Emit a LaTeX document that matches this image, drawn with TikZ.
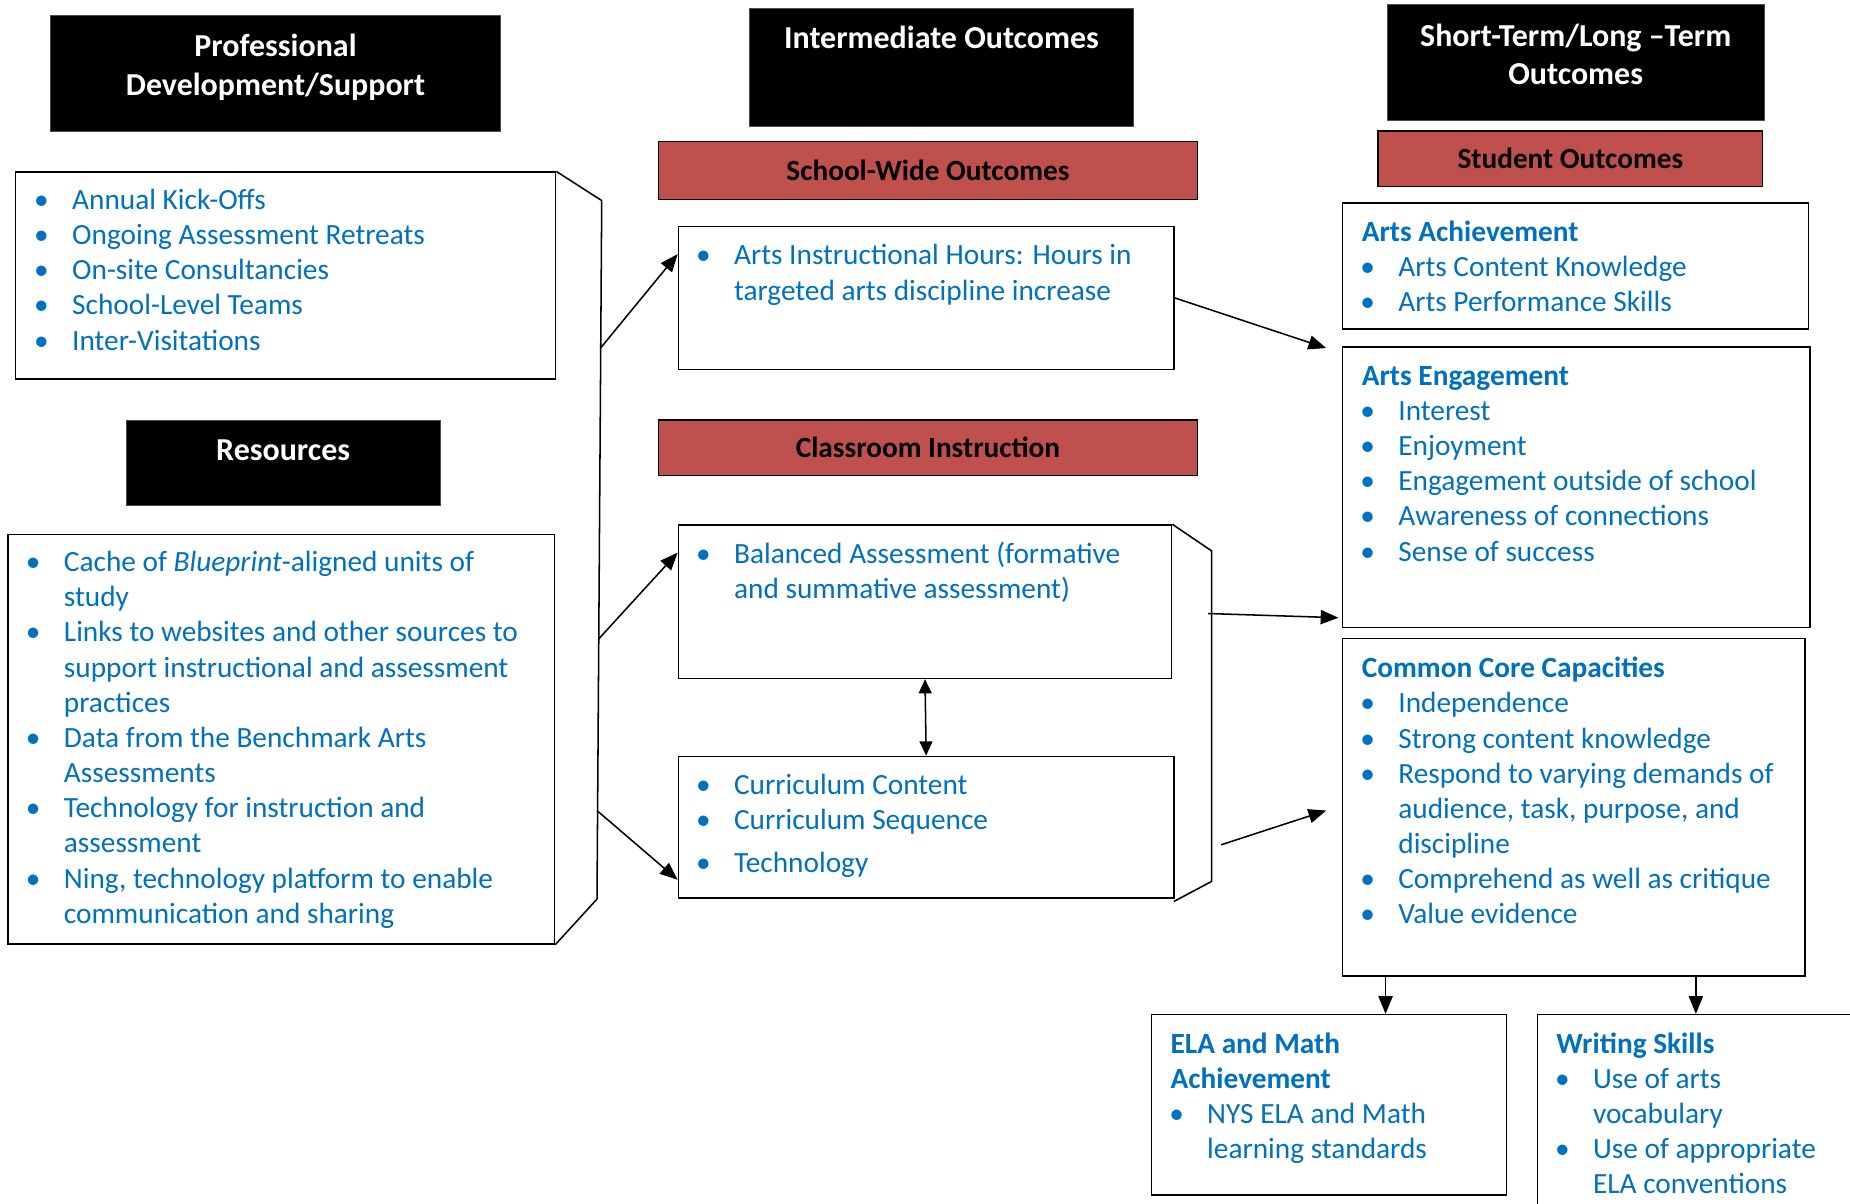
\documentclass[tikz,border=0pt]{standalone}
\usepackage{fontspec}
\setmainfont{Carlito}
\usetikzlibrary{arrows.meta,fit}
\definecolor{tblue}{HTML}{0070C0}
\definecolor{tred}{HTML}{C0504D}
\newcommand\bodyfont{\fontsize{24.85}{29.8}\selectfont}
\newcommand\bul{\leavevmode\llap{\makebox[52pt]{\textbullet}}}
\newcommand\ttl[1]{\leavevmode\hspace*{-31pt}\textbf{#1}}
\newcommand\txtbox[1]{\parbox[t]{600pt}{\raggedright\bodyfont\leavevmode#1}}
\newcommand\hdr[1]{\parbox[t]{400pt}{\centering\fontsize{27.1}{33}\selectfont\bfseries\leavevmode#1}}
\newcommand\rhdr[1]{\parbox[t]{400pt}{\centering\fontsize{24.8}{30}\selectfont\bfseries\leavevmode#1}}
\begin{document}
\begin{tikzpicture}[x=1pt,y=-1pt,
  box/.style={draw=black, line width=1.3pt, inner sep=0pt, fill=white},
  blackhd/.style={fill=black, draw=black!70, line width=0.6pt, inner sep=0pt},
  redhd/.style={fill=tred, draw=black, line width=1.2pt, inner sep=0pt},
  txt/.style={inner sep=0pt, anchor=base west, text=tblue},
  htxt/.style={inner sep=0pt, anchor=base, text=white},
  rtxt/.style={inner sep=0pt, anchor=base, text=black},
  conn/.style={line width=1.3pt, draw=black},
  arr/.style={conn, -{Triangle[length=15pt,width=12pt]}},
  darr/.style={conn, {Triangle[length=12pt,width=11pt]}-{Triangle[length=12pt,width=11pt]}}
]
\useasboundingbox (0,0) rectangle (1568,1020);
\clip (0,0) rectangle (1568,1020);
\fill[white] (0,0) rectangle (1568,1020);

% header boxes
\node[blackhd, fit={(43,13) (424,111)}] (pdh) {};
\node[blackhd, fit={(635,7) (961,107)}] (ioh) {};
\node[blackhd, fit={(1176,4) (1495,102)}] (sth) {};
\node[blackhd, fit={(107,356) (373,428)}] (resh) {};
\node[redhd, fit={(558,120) (1015,169)}] (swh) {};
\node[redhd, fit={(558,356) (1015,403)}] (cih) {};
\node[redhd, fit={(1168,111) (1494,158)}] (soh) {};

\node[htxt] (pdht) at (233.5,48) {\hdr{Professional\\Development/Support}};
\node[htxt] (ioht) at (798,41) {\hdr{Intermediate Outcomes}};
\node[htxt] (stht) at (1335.5,39) {\hdr{Short-Term/Long –Term\\Outcomes}};
\node[htxt] (resht) at (240,390) {\hdr{Resources}};
\node[rtxt] (swht) at (786.5,153) {\rhdr{School-Wide Outcomes}};
\node[rtxt] (ciht) at (786.5,388) {\rhdr{Classroom Instruction}};
\node[rtxt] (soht) at (1331,143) {\rhdr{Student Outcomes}};

% content boxes
\node[box, fit={(13,146) (471,321)}] (pd) {};
\node[box, fit={(7,453) (470,800)}] (res) {};
\node[box, fit={(575,192) (995,313)}] (ih) {};
\node[box, fit={(575,445) (993,575)}] (ba) {};
\node[box, fit={(575,641) (995,761)}] (cur) {};
\node[box, fit={(1138,172) (1533,279)}] (aa) {};
\node[box, fit={(1138,294) (1534,532)}] (ae) {};
\node[box, fit={(1138,541) (1530,827)}] (cc) {};
\node[box, fit={(976,860) (1277,1013)}] (ela) {};
\node[box, fit={(1303,860) (1600,1060)}] (ws) {};

% texts
\node[txt] (pdt) at (61,177.5) {\txtbox{\bul Annual Kick-Offs\\
\bul Ongoing Assessment Retreats\\
\bul On-site Consultancies\\
\bul School-Level Teams\\
\bul Inter-Visitations}};
\node[txt] (rest) at (54,484.5) {\txtbox{\bul Cache of \textit{Blueprint}-aligned units of\\
study\\
\bul Links to websites and other sources to\\
support instructional and assessment\\
practices\\
\bul Data from the Benchmark Arts\\
Assessments\\
\bul Technology for instruction and\\
assessment\\
\bul Ning, technology platform to enable\\
communication and sharing}};
\node[txt] (iht) at (622,224.5) {\txtbox{\bul Arts Instructional Hours: Hours in\\
targeted arts discipline increase}};
\node[txt] (bat) at (622,477.5) {\txtbox{\bul Balanced Assessment (formative\\
and summative assessment)}};
\node[txt] (curt) at (622,673.5) {\txtbox{\bul Curriculum Content\\
\bul Curriculum Sequence\\[6pt]
\bul Technology}};
\node[txt] (aat) at (1185,204.5) {\txtbox{\ttl{Arts Achievement}\\
\bul Arts Content Knowledge\\
\bul Arts Performance Skills}};
\node[txt] (aet) at (1185,326.5) {\txtbox{\ttl{Arts Engagement}\\
\bul Interest\\
\bul Enjoyment\\
\bul Engagement outside of school\\
\bul Awareness of connections\\
\bul Sense of success}};
\node[txt] (cct) at (1185,574.5) {\txtbox{\ttl{Common Core Capacities}\\
\bul Independence\\
\bul Strong content knowledge\\
\bul Respond to varying demands of\\
audience, task, purpose, and\\
discipline\\
\bul Comprehend as well as critique\\
\bul Value evidence}};
\node[txt] (elat) at (1023,892.5) {\txtbox{\ttl{ELA and Math}\\
\ttl{Achievement}\\
\bul NYS ELA and Math\\
learning standards}};
\node[txt] (wst) at (1350,892.5) {\txtbox{\ttl{Writing Skills}\\
\bul Use of arts\\
vocabulary\\
\bul Use of appropriate\\
ELA conventions}};

% bracket coordinates
\coordinate (bl1) at (510,170);
\coordinate (bl2) at (506,762);
\coordinate (a1) at (509,295);
\coordinate (a2) at (507,542);
\coordinate (a3) at (506,687);
\coordinate (bm1) at (1027,467);
\coordinate (bm2) at (1027,747);
\coordinate (bm3) at (995,764);
\coordinate (t5) at (1124,295);
\coordinate (s7) at (1024,520);
\coordinate (s8) at (1035,716);
\coordinate (t8) at (1124,687);

% brackets
\draw[conn, line join=miter] (pd.north east) -- (bl1) -- (bl2) -- (res.south east);
\draw[conn, line join=miter] (ba.north east) -- (bm1) -- (bm2) -- (bm3);

% connectors
\draw[arr] (a1) -- ([yshift=-24pt]ih.north west);
\draw[arr] (a2) -- ([yshift=-24pt]ba.north west);
\draw[arr] (a3) -- ([yshift=16pt]cur.south west);
\draw[arr] (ih.east) -- (t5);
\draw[arr, shorten >=3pt] (s7) -- ([yshift=9pt]ae.south west);
\draw[arr] (s8) -- (t8);
\draw[darr] (ba.south) -- (cur.north);
\draw[arr] ([xshift=37pt]cc.south west) -- ([xshift=37pt]cc.south west |- ela.north);
\draw[arr] ([xshift=300pt]cc.south west) -- ([xshift=300pt]cc.south west |- ws.north);
\end{tikzpicture}
\end{document}
